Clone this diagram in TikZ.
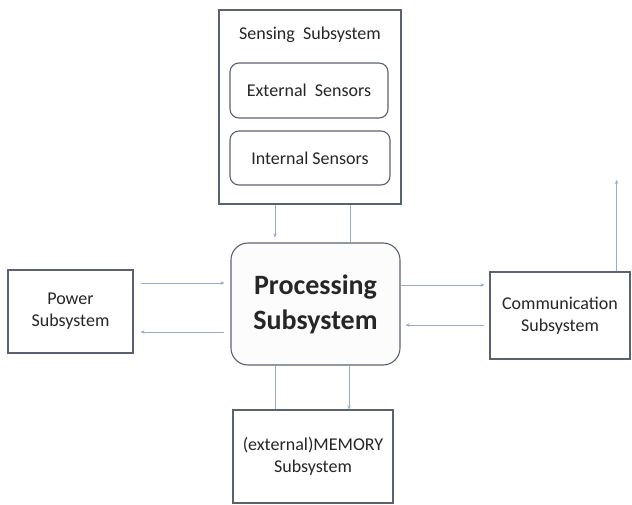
\documentclass[tikz,border=0pt]{standalone}
\usepackage{fontspec}
\setmainfont{Carlito}
\usetikzlibrary{arrows.meta}
\definecolor{boxline}{HTML}{5A6272}
\definecolor{arrline}{HTML}{9AAACB}
\begin{document}
\begin{tikzpicture}
[every node/.style={inner sep=0pt, align=center, text=black!85},
 box/.style={rectangle, fill=white, line width=1.1pt, draw=boxline},
 rbox/.style={box, rounded corners=9pt},
 arr/.style={line width=0.9pt, color=arrline, >={Stealth[length=4pt, width=3.5pt]}},
 txt/.style={font=\fontsize{18}{22}\selectfont}]
\useasboundingbox (0pt, 0pt) rectangle (632pt, -505pt);
\node (sense) [box, minimum width=182pt, minimum height=194pt] at (310pt, -107pt) {};
\node (title) [txt] at (310pt, -35pt) {Sensing\ \ Subsystem};
\node (ext) [rbox, txt, minimum width=158pt, minimum height=55pt] at (309pt, -90.5pt) {External\ \ Sensors};
\node (int) [rbox, txt, minimum width=160pt, minimum height=54pt] at (310pt, -158pt) {Internal Sensors};
\node (proc) [box, rounded corners=17pt, fill=black!1, minimum width=169pt, minimum height=122pt, font=\fontsize{28}{35}\selectfont\bfseries] at (315.5pt, -304pt) {Processing\\Subsystem};
\node (power) [box, txt, minimum width=125pt, minimum height=83pt] at (70.5pt, -311.5pt) {Power\\Subsystem};
\node (comm) [box, txt, minimum width=140pt, minimum height=87pt] at (560pt, -315.5pt) {Communication\\Subsystem};
\node (mem) [box, txt, minimum width=160pt, minimum height=93pt] at (313pt, -456.5pt) {(external)MEMORY\\Subsystem};
\coordinate (commout) at (616pt, -180pt);
% sensing <-> processing
\draw [arr, ->, shorten >=5pt] ([xshift=-35pt]sense.south) to ([xshift=-35pt]sense.south |- proc.north);
\draw [arr] ([xshift=40pt]sense.south) to ([xshift=40pt]sense.south |- proc.north);
% power <-> processing
\draw [arr, ->, shorten <=7pt, shorten >=6pt] ([yshift=28.5pt]power.east) to ([yshift=28.5pt]power.east -| proc.west);
\draw [arr, <-, shorten <=7pt, shorten >=6pt] ([yshift=-20.5pt]power.east) to ([yshift=-20.5pt]power.east -| proc.west);
% processing <-> communication
\draw [arr, <-, shorten <=5pt] ([yshift=30.5pt]comm.west) to ([yshift=30.5pt]comm.west -| proc.east);
\draw [arr, ->, shorten <=5pt, shorten >=5pt] ([yshift=-9.5pt]comm.west) to ([yshift=-9.5pt]comm.west -| proc.east);
\draw [arr, ->] ([xshift=-14pt]comm.north east) to ([xshift=-14pt]comm.north east |- commout);
% processing <-> memory
\draw [arr] ([xshift=-38pt]mem.north) to ([xshift=-38pt]mem.north |- proc.south);
\draw [arr, <-] ([xshift=36pt]mem.north) to ([xshift=36pt]mem.north |- proc.south);
\end{tikzpicture}
\end{document}
